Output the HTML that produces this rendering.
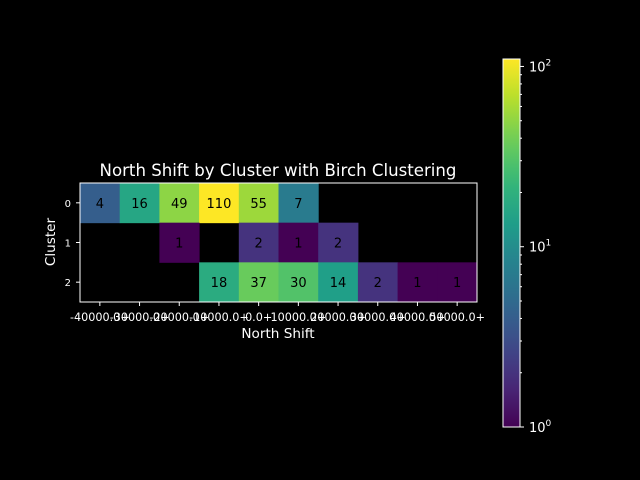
<!DOCTYPE html>
<html><head><meta charset="utf-8"><style>
body{margin:0;background:#000;}
svg{display:block;font-family:"Liberation Sans","DejaVu Sans",sans-serif;}
</style></head><body>
<svg id="chart" width="640" height="480">
<rect width="640" height="480" fill="#000"/>
<defs><linearGradient id="cbg" x1="0" y1="1" x2="0" y2="0"></linearGradient></defs>
<g id="cells"></g>
<g id="axes"></g>
<text x="278" y="176" fill="#fff" font-size="16.6" text-anchor="middle" font-family="DejaVu Sans, sans-serif">North Shift by Cluster with Birch Clustering</text>
<text x="278" y="338" fill="#fff" font-size="13.6" text-anchor="middle" font-family="DejaVu Sans, sans-serif">North Shift</text>
<text transform="translate(55,242) rotate(-90)" fill="#fff" font-size="13.6" text-anchor="middle" font-family="DejaVu Sans, sans-serif">Cluster</text>
<g id="cbar"></g>
</svg>
<script>
const categories = ["-40000.0+","-30000.0+","-20000.0+","-10000.0+","0.0+","10000.0+","20000.0+","30000.0+","40000.0+","50000.0+"];
const clusters = ["0","1","2"];
const row0 = [4,16,49,110,55,7,null,null,null,null];
const row1 = [null,null,1,null,2,1,2,null,null,null];
const row2 = [null,null,null,18,37,30,14,2,1,1];
const cbTicks = [1,10,100];
const cbTickLabels = ["10","10","10"];
const cbTickExps = ["0","1","2"];

const rows=[row0,row1,row2];
const NS="http://www.w3.org/2000/svg";
const X0=80,X1=477,Y0=183,Y1=302;
const vmin=1,vmax=110;
const cw=(X1-X0)/categories.length, ch=(Y1-Y0)/clusters.length;
const xPos=i=>X0+i*cw, yPos=j=>Y0+j*ch;
const vir=[[68,1,84],[72,40,120],[62,74,137],[49,104,142],[38,130,142],[31,158,137],[53,183,121],[109,205,89],[180,222,44],[253,231,37]];
function viridis(t){t=Math.max(0,Math.min(1,t));const f=t*(vir.length-1),i=Math.min(Math.floor(f),vir.length-2),r=f-i;
 const c=vir[i].map((v,k)=>Math.round(v+(vir[i+1][k]-v)*r));return `rgb(${c[0]},${c[1]},${c[2]})`;}
const norm=v=>Math.log(v/vmin)/Math.log(vmax/vmin);
function el(tag,attrs,parent){const e=document.createElementNS(NS,tag);for(const k in attrs)e.setAttribute(k,attrs[k]);parent.appendChild(e);return e;}
const cells=document.getElementById('cells');
rows.forEach((row,j)=>row.forEach((v,i)=>{
 if(v==null)return;
 const r=el('rect',{x:xPos(i),y:yPos(j),width:cw+0.5,height:ch+0.5,fill:viridis(norm(v))},cells);
 
 
 const t=el('text',{x:xPos(i)+cw/2,y:yPos(j)+ch/2+5,'text-anchor':'middle','font-size':'13',fill:'#000','font-family':'DejaVu Sans, sans-serif'},cells);
 t.textContent=v;
 
 
}));
const axes=document.getElementById('axes');
el('rect',{x:X0,y:Y0,width:X1-X0,height:Y1-Y0,fill:'none',stroke:'#fff','stroke-width':1},axes);
categories.forEach((c,i)=>{
 const x=xPos(i)+cw/2;
 el('line',{x1:x,x2:x,y1:Y1,y2:Y1+4,stroke:'#fff'},axes);
 const t=el('text',{x:x,y:Y1+19,'text-anchor':'middle','font-size':'11.2',fill:'#fff','font-family':'DejaVu Sans, sans-serif'},axes);
 t.textContent=c;
 
 
});
clusters.forEach((c,j)=>{
 const y=yPos(j)+ch/2;
 el('line',{x1:X0-4,x2:X0,y1:y,y2:y,stroke:'#fff'},axes);
 const t=el('text',{x:X0-9,y:y+4,'text-anchor':'end','font-size':'10',fill:'#fff','font-family':'DejaVu Sans, sans-serif'},axes);
 t.textContent=c;
 
 
});
const grad=document.getElementById('cbg');
for(let k=0;k<=20;k++){el('stop',{offset:k/20,'stop-color':viridis(k/20)},grad);}
const CB={x:503,w:17,top:59,bot:427};
const cb=document.getElementById('cbar');
el('rect',{x:CB.x,y:CB.top,width:CB.w,height:CB.bot-CB.top,fill:'url(#cbg)',stroke:'#fff','stroke-width':1},cb);
const cy=v=>CB.bot-norm(v)*(CB.bot-CB.top);
for(let d=1;d<=100;d*=10)for(let m=1;m<10;m++){const v=d*m;if(v>vmax||v<vmin)continue;
 const major=m===1;
 el('line',{x1:CB.x+CB.w,x2:CB.x+CB.w+(major?4:2),y1:cy(v),y2:cy(v),stroke:'#fff'},cb);}
cbTicks.forEach((v,i)=>{
 const t=el('text',{x:CB.x+CB.w+9,y:cy(v)+5,'font-size':'13',fill:'#fff','font-family':'DejaVu Sans, sans-serif'},cb);
 t.textContent=cbTickLabels[i];
 const s=el('tspan',{dy:-6,'font-size':'9'},t);s.textContent=cbTickExps[i];
 
 
});
</script>
</body></html>
